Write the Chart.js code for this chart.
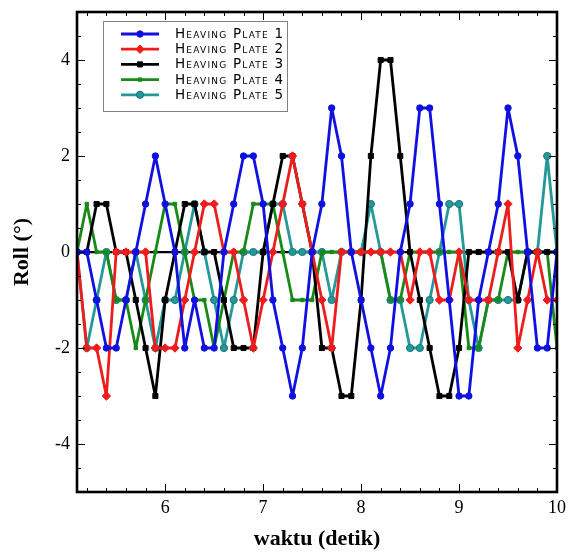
<!DOCTYPE html>
<html>
<head>
<meta charset="utf-8">
<script src="https://cdn.jsdelivr.net/npm/chart.js@4/dist/chart.umd.min.js"></script>
<style>
  html, body { margin: 0; padding: 0; background: #fff; }
  #wrap { width: 575px; height: 555px; }
</style>
</head>
<body>
<div id="wrap"><canvas id="roll"></canvas></div>
<script>
// waktu (detik)
const times = [5.1, 5.2, 5.3, 5.4, 5.5, 5.6, 5.7, 5.8, 5.9, 6.0,
               6.1, 6.2, 6.3, 6.4, 6.5, 6.6, 6.7, 6.8, 6.9, 7.0,
               7.1, 7.2, 7.3, 7.4, 7.5, 7.6, 7.7, 7.8, 7.9, 8.0,
               8.1, 8.2, 8.3, 8.4, 8.5, 8.6, 8.7, 8.8, 8.9, 9.0,
               9.1, 9.2, 9.3, 9.4, 9.5, 9.6, 9.7, 9.8, 9.9, 10.0];

// roll (deg) per heaving plate
const plate1 = [0, 0, -1, -2, -2, -1, 0, 1, 2, 1,
                0, -2, -1, -2, -2, 0, 1, 2, 2, 1,
                -1, -2, -3, -2, 0, 1, 3, 2, 0, -1,
                -2, -3, -2, 0, 1, 3, 3, 1, -1, -3,
                -3, -1, 0, 1, 3, 2, 0, -2, -2, 0];
const plate2 = [0, -2, -2, -3, 0, 0, 0, 0, -2, -2,
                -2, -1, 0, 1, 1, 0, 0, -1, -2, -1,
                0, 1, 2, 1, 0, -1, -2, 0, 0, 0,
                0, 0, 0, 0, -1, 0, 0, -1, -1, 0,
                -1, -1, -1, 0, 1, -2, -1, 0, -1, -1];
const plate3 = [0, 0, 1, 1, 0, 0, -1, -2, -3, -1,
                0, 1, 1, 0, 0, -1, -2, -2, -2, 0,
                1, 2, 2, 1, 0, -2, -2, -3, -3, -1,
                2, 4, 4, 2, 0, -1, -2, -3, -3, -2,
                0, 0, 0, 0, 0, -1, 0, 0, 0, 0];
const plate4 = [0, 1, 0, 0, -1, -1, -2, -1, 0, 1,
                1, 0, -1, -1, -2, -1, 0, 0, 1, 1,
                1, 0, -1, -1, -1, 0, 0, 0, 0, 0,
                0, 0, -1, -1, 0, 0, 0, 0, 0, 0,
                -2, -2, -1, -1, 0, 0, 0, 0, 0, -2];
const plate5 = [0, -2, -1, 0, -1, -1, 0, -1, -2, -1,
                -1, 0, 1, 0, -1, -2, -1, 0, 0, 0,
                1, 1, 0, 0, 0, 0, -1, 0, 0, 0,
                1, 0, -1, -1, -2, -2, -1, 0, 1, 1,
                -1, -2, -1, -1, -1, -1, 0, 0, 2, 0];

const seriesNames = ['Heaving Plate 1', 'Heaving Plate 2', 'Heaving Plate 3', 'Heaving Plate 4', 'Heaving Plate 5'];
const xTicks = [6, 7, 8, 9, 10];
const yTicks = [-4, -2, 0, 2, 4];

const styles = [
  { color: '#1010e0', point: 'circle', radius: 3.2 },
  { color: '#ee1c1c', point: 'rectRot', radius: 4.2 },
  { color: '#000000', point: 'rect', radius: 3.6 },
  { color: '#178a17', point: 'rect', radius: 2.4 },
  { color: '#25999a', point: 'circle', radius: 3.6, border: '#177575' }
];

const allSeries = [plate1, plate2, plate3, plate4, plate5];

const datasets = allSeries.map((vals, k) => ({
  label: seriesNames[k],
  data: times.map((t, i) => ({ x: t, y: vals[i] })),
  borderColor: styles[k].color,
  backgroundColor: styles[k].color,
  pointBackgroundColor: styles[k].color,
  pointBorderColor: styles[k].border || styles[k].color,
  pointBorderWidth: 1,
  pointStyle: styles[k].point,
  pointRadius: styles[k].radius,
  borderWidth: 2.8,
  borderJoinStyle: 'round',
  borderCapStyle: 'round',
  tension: 0
}));

// box round the plot, with inward ticks on every side
const frame = {
  id: 'frame',
  afterDatasetsDraw(chart) {
    const { ctx, chartArea: a, scales: { x, y } } = chart;
    ctx.save();
    ctx.strokeStyle = '#000';
    ctx.lineWidth = 1;
    for (let v = 5.2; v < 10; v += 0.2) {
      const px = Math.round(x.getPixelForValue(v)) + 0.5;
      const major = Math.abs(v - Math.round(v)) < 0.01;
      const len = major ? 8 : 4;
      ctx.beginPath();
      ctx.moveTo(px, a.bottom); ctx.lineTo(px, a.bottom - len);
      ctx.moveTo(px, a.top); ctx.lineTo(px, a.top + len);
      ctx.stroke();
    }
    for (let v = -4.5; v <= 4.5; v += 0.5) {
      const py = Math.round(y.getPixelForValue(v)) + 0.5;
      const major = Math.abs(v % 2) < 0.01;
      const len = major ? 8 : 4;
      ctx.beginPath();
      ctx.moveTo(a.left, py); ctx.lineTo(a.left + len, py);
      ctx.moveTo(a.right, py); ctx.lineTo(a.right - len, py);
      ctx.stroke();
    }
    ctx.lineWidth = 2.6;
    ctx.strokeRect(a.left, a.top, a.right - a.left, a.bottom - a.top);
    ctx.restore();
  }
};

// legend box in the upper left of the plot
const legendBox = {
  id: 'legendBox',
  afterDraw(chart) {
    const { ctx, chartArea: a } = chart;
    const bx = a.left + 26, by = a.top + 9, bw = 184, bh = 90;
    ctx.save();
    ctx.fillStyle = '#fff';
    ctx.fillRect(bx, by, bw, bh);
    ctx.strokeStyle = '#808080';
    ctx.lineWidth = 1;
    ctx.strokeRect(bx + 0.5, by + 0.5, bw, bh);
    chart.data.datasets.forEach((ds, k) => {
      const rowY = by + 13 + k * 15.2;
      ctx.strokeStyle = ds.borderColor;
      ctx.lineWidth = 2.8;
      ctx.beginPath();
      ctx.moveTo(bx + 18, rowY); ctx.lineTo(bx + 56, rowY);
      ctx.stroke();
      ctx.fillStyle = ds.pointBackgroundColor;
      ctx.strokeStyle = ds.pointBorderColor;
      ctx.lineWidth = 1;
      Chart.helpers.drawPoint(ctx, { pointStyle: ds.pointStyle, radius: ds.pointRadius, borderWidth: 1 }, bx + 37, rowY);
      ctx.font = 'small-caps 13.5px "DejaVu Sans"';
      ctx.fontVariantCaps = 'small-caps';
      ctx.letterSpacing = '0px';
      const w = ctx.measureText(ds.label).width;
      const n = ds.label.length;
      ctx.letterSpacing = Math.max(0, (108 - w) / (n - 1)).toFixed(2) + 'px';
      ctx.fillStyle = '#000';
      ctx.textBaseline = 'middle';
      ctx.fillText(ds.label, bx + 72, rowY + 0.5);
    });
    ctx.restore();
  }
};

new Chart(document.getElementById('roll'), {
  type: 'line',
  data: { datasets },
  options: {
    responsive: true,
    maintainAspectRatio: false,
    animation: false,
    layout: { padding: { top: 12, right: 18, left: 0, bottom: 0 } },
    plugins: { legend: { display: false }, tooltip: { enabled: false } },
    scales: {
      x: {
        type: 'linear',
        min: 5.1,
        max: 10,
        afterBuildTicks: s => { s.ticks = xTicks.map(v => ({ value: v })); },
        afterFit: s => { s.height = 63; s.paddingLeft = 0; s.paddingRight = 0; },
        border: { display: false },
        grid: { display: false, drawTicks: false },
        ticks: { padding: 5, color: '#000', font: { family: '"Liberation Serif"', size: 18 } },
        title: {
          display: true,
          text: 'waktu (detik)',
          color: '#000',
          font: { family: '"Liberation Serif"', size: 22, weight: 'bold' },
          padding: { bottom: 2 }
        }
      },
      y: {
        min: -5,
        max: 5,
        afterBuildTicks: s => { s.ticks = yTicks.map(v => ({ value: v })); },
        afterFit: s => { s.width = 77; s.paddingTop = 0; s.paddingBottom = 0; },
        border: { display: false },
        grid: {
          drawTicks: false,
          color: c => (c.tick && c.tick.value === 0 ? '#000' : 'rgba(0,0,0,0)'),
          lineWidth: 2.2
        },
        ticks: { padding: 7, color: '#000', font: { family: '"Liberation Serif"', size: 18 } },
        title: {
          display: true,
          text: 'Roll (°)',
          color: '#000',
          font: { family: '"Liberation Serif"', size: 22, weight: 'bold' },
          padding: { top: 9 }
        }
      }
    }
  },
  plugins: [frame, legendBox]
});
</script>
</body>
</html>
